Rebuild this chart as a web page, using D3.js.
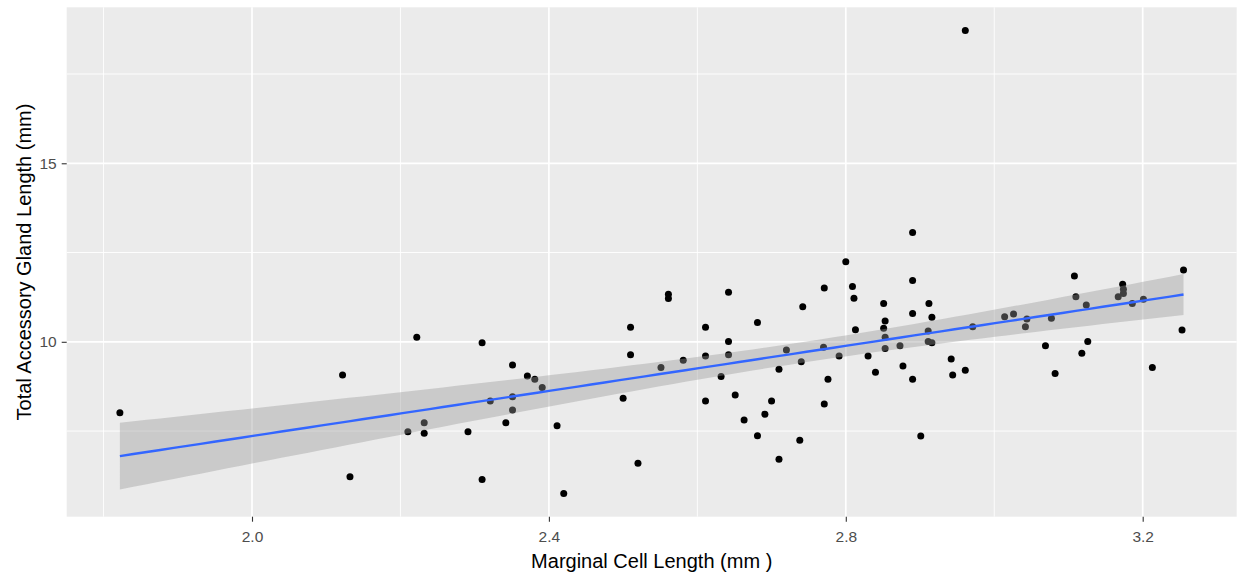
<!DOCTYPE html>
<html>
<head>
<meta charset="utf-8">
<script src="https://cdn.jsdelivr.net/npm/d3@7"></script>
<style>
  html, body { margin: 0; padding: 0; background: #ffffff; }
  svg { display: block; }
  text { font-family: "Liberation Sans", Arial, sans-serif; }
</style>
</head>
<body>
<svg id="chart" width="1241" height="575"></svg>
<script>
// Marginal cell length (mm)
const marginalCell = [
  1.822, 2.122, 2.132,
  2.222, 2.310, 2.351, 2.371, 2.381, 2.391, 2.321, 2.351, 2.351, 2.232, 2.210, 2.232, 2.291, 2.342, 2.411, 2.310, 2.420, 2.500,
  2.510, 2.510, 2.520, 2.561, 2.561, 2.551, 2.581, 2.611, 2.611, 2.611, 2.642, 2.642, 2.642, 2.632, 2.651, 2.663,
  2.681, 2.681, 2.691, 2.700, 2.710, 2.710, 2.720, 2.738, 2.740, 2.742, 2.770, 2.771, 2.776, 2.771, 2.791,
  2.800, 2.809, 2.811, 2.813, 2.830, 2.840, 2.851, 2.853, 2.851, 2.853, 2.853, 2.873, 2.877, 2.890, 2.890, 2.890, 2.890,
  2.901, 2.912, 2.916, 2.911, 2.911, 2.916, 2.942, 2.944, 2.961, 2.961, 2.971, 3.014, 3.026, 3.042, 3.044, 3.069,
  3.077, 3.082, 3.108, 3.110, 3.124, 3.118, 3.126, 3.173, 3.174, 3.174, 3.167, 3.186, 3.201, 3.213, 3.255, 3.253
];
// Total accessory gland length (mm)
const glandLength = [
  8.01, 9.07, 6.22,
  10.13, 9.97, 9.35, 9.04, 8.95, 8.72, 8.34, 8.46, 8.09, 7.73, 7.48, 7.44, 7.48, 7.73, 7.65, 6.14, 5.75, 8.42,
  10.41, 9.64, 6.60, 11.33, 11.21, 9.28, 9.48, 10.41, 9.60, 8.34, 11.39, 10.01, 9.64, 9.03, 8.51, 7.81,
  10.54, 7.37, 7.97, 8.34, 9.23, 6.71, 9.77, 7.24, 9.44, 10.98, 9.85, 11.51, 8.95, 8.26, 9.60,
  12.24, 11.55, 11.22, 10.34, 9.60, 9.15, 11.07, 10.58, 10.38, 10.13, 9.81, 9.89, 9.32, 13.06, 11.72, 10.79, 8.95,
  7.36, 11.07, 10.69, 10.30, 10.01, 9.97, 9.52, 9.07, 9.20, 18.72, 10.42, 10.70, 10.78, 10.42, 10.64, 9.89,
  10.66, 9.11, 11.84, 11.26, 11.03, 9.68, 10.01, 11.61, 11.47, 11.35, 11.26, 11.07, 11.19, 9.28, 12.01, 10.33
];
const xTicks = [2.0, 2.4, 2.8, 3.2];
const xMinorTicks = [1.8, 2.2, 2.6, 3.0, 3.4];
const yTicks = [10, 15];
const yMinorTicks = [7.5, 12.5, 17.5];
const xTitle = "Marginal Cell Length (mm )";
const yTitle = "Total Accessory Gland Length (mm)";

const data = marginalCell.map((x, i) => ({x, y: glandLength[i]}));

const svg = d3.select("#chart");
const panel = {left: 66.7, right: 1236.7, top: 7.3, bottom: 516.7};

function expand(ext) {
  const r = ext[1] - ext[0];
  return [ext[0] - 0.05 * r, ext[1] + 0.05 * r];
}
const x = d3.scaleLinear().domain(expand(d3.extent(marginalCell))).range([panel.left, panel.right]);
const y = d3.scaleLinear().domain(expand(d3.extent(glandLength))).range([panel.bottom, panel.top]);

// panel background
svg.append("rect")
  .attr("x", panel.left).attr("y", panel.top)
  .attr("width", panel.right - panel.left).attr("height", panel.bottom - panel.top)
  .attr("fill", "#EBEBEB");

const grid = svg.append("g");
const inX = v => v >= x.domain()[0] && v <= x.domain()[1];
const inY = v => v >= y.domain()[0] && v <= y.domain()[1];

grid.selectAll(".ymin").data(yMinorTicks.filter(inY)).join("line")
  .attr("x1", panel.left).attr("x2", panel.right)
  .attr("y1", d => y(d)).attr("y2", d => y(d))
  .attr("stroke", "#ffffff").attr("stroke-width", 0.9);
grid.selectAll(".xmin").data(xMinorTicks.filter(inX)).join("line")
  .attr("y1", panel.top).attr("y2", panel.bottom)
  .attr("x1", d => x(d)).attr("x2", d => x(d))
  .attr("stroke", "#ffffff").attr("stroke-width", 0.9);
grid.selectAll(".ymaj").data(yTicks).join("line")
  .attr("x1", panel.left).attr("x2", panel.right)
  .attr("y1", d => y(d)).attr("y2", d => y(d))
  .attr("stroke", "#ffffff").attr("stroke-width", 1.7);
grid.selectAll(".xmaj").data(xTicks).join("line")
  .attr("y1", panel.top).attr("y2", panel.bottom)
  .attr("x1", d => x(d)).attr("x2", d => x(d))
  .attr("stroke", "#ffffff").attr("stroke-width", 1.7);

// points
svg.append("g").selectAll("circle").data(data).join("circle")
  .attr("cx", d => x(d.x)).attr("cy", d => y(d.y))
  .attr("r", 3.5).attr("fill", "#000000");

// linear regression with 95% confidence band
const n = data.length;
const xbar = d3.mean(marginalCell), ybar = d3.mean(glandLength);
const sxx = d3.sum(marginalCell, v => (v - xbar) ** 2);
const sxy = d3.sum(data, d => (d.x - xbar) * (d.y - ybar));
const slope = sxy / sxx;
const intercept = ybar - slope * xbar;
const sse = d3.sum(data, d => (d.y - (intercept + slope * d.x)) ** 2);
const s = Math.sqrt(sse / (n - 2));
const tCrit = 1.983;
const [xlo, xhi] = d3.extent(marginalCell);
const fit = d3.range(80).map(i => {
  const xv = xlo + (xhi - xlo) * i / 79;
  const yv = intercept + slope * xv;
  const se = s * Math.sqrt(1 / n + (xv - xbar) ** 2 / sxx);
  return {x: xv, y: yv, lo: yv - tCrit * se, hi: yv + tCrit * se};
});

svg.append("path").datum(fit)
  .attr("d", d3.area().x(d => x(d.x)).y0(d => y(d.lo)).y1(d => y(d.hi)))
  .attr("fill", "#999999").attr("fill-opacity", 0.4);
svg.append("path").datum(fit)
  .attr("d", d3.line().x(d => x(d.x)).y(d => y(d.y)))
  .attr("fill", "none").attr("stroke", "#3366FF").attr("stroke-width", 2.4);

// axes
const xAxis = d3.axisBottom(x).tickValues(xTicks).tickFormat(d3.format(".1f")).tickSize(5).tickPadding(9.5);
const gx = svg.append("g").attr("transform", `translate(0,${panel.bottom})`).call(xAxis);
gx.select(".domain").remove();
gx.selectAll(".tick line").attr("stroke", "#333333").attr("stroke-width", 1.1);
gx.selectAll(".tick text").attr("fill", "#4D4D4D").attr("font-size", 15.5)
  .attr("font-family", "Liberation Sans, Arial, sans-serif");

const yAxis = d3.axisLeft(y).tickValues(yTicks).tickFormat(d3.format("d")).tickSize(5).tickPadding(5);
const gy = svg.append("g").attr("transform", `translate(${panel.left},0)`).call(yAxis);
gy.select(".domain").remove();
gy.selectAll(".tick line").attr("stroke", "#333333").attr("stroke-width", 1.1);
gy.selectAll(".tick text").attr("fill", "#4D4D4D").attr("font-size", 15.5)
  .attr("font-family", "Liberation Sans, Arial, sans-serif");

svg.append("text")
  .attr("x", (panel.left + panel.right) / 2).attr("y", 568)
  .attr("text-anchor", "middle").attr("font-size", 20).attr("fill", "#000000")
  .text(xTitle);
svg.append("text")
  .attr("transform", `translate(31,${(panel.top + panel.bottom) / 2}) rotate(-90)`)
  .attr("text-anchor", "middle").attr("font-size", 20).attr("fill", "#000000")
  .text(yTitle);
</script>
</body>
</html>
